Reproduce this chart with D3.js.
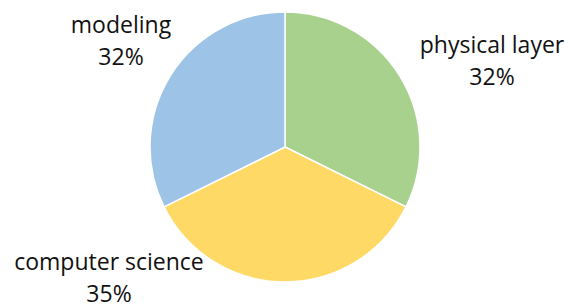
<!DOCTYPE html>
<html>
<head>
<meta charset="utf-8">
<script src="https://cdn.jsdelivr.net/npm/d3@7"></script>
<style>
  html, body { margin: 0; padding: 0; background: #fff; }
  svg { display: block; }
</style>
</head>
<body>
<div id="chart"></div>
<script>
const categories = ['physical layer', 'computer science', 'modeling'];
const values = [32, 35, 32];
const percentLabels = ['32%', '35%', '32%'];
const colors = ['#A9D18E', '#FFD966', '#9DC3E6'];

const width = 568, height = 307;
const cx = 285, cy = 147, radius = 135;

// first-line baselines of the labels (layout only, best-fit style placement)
const labelAnchors = [[492, 53], [109, 270], [121, 33]];

const svg = d3.select('#chart').append('svg')
  .attr('width', width)
  .attr('height', height);

const pie = d3.pie().sort(null).value(d => d)(values);
const arc = d3.arc().innerRadius(0).outerRadius(radius);

const g = svg.append('g').attr('transform', `translate(${cx},${cy})`);

g.selectAll('path')
  .data(pie)
  .enter().append('path')
  .attr('d', arc)
  .attr('fill', (d, i) => colors[i])
  .attr('stroke', '#fff')
  .attr('stroke-width', 1.5)
  .attr('stroke-linejoin', 'round');

const labels = svg.append('g')
  .attr('font-family', "'Open Sans', 'Noto Sans', sans-serif")
  .attr('font-size', 23)
  .attr('fill', '#111')
  .attr('text-anchor', 'middle');

categories.forEach((c, i) => {
  const [x, y] = labelAnchors[i];
  const t = labels.append('text').attr('x', x).attr('y', y);
  t.append('tspan').attr('x', x).text(c);
  t.append('tspan').attr('x', x).attr('dy', 32).text(percentLabels[i]);
});
</script>
</body>
</html>
